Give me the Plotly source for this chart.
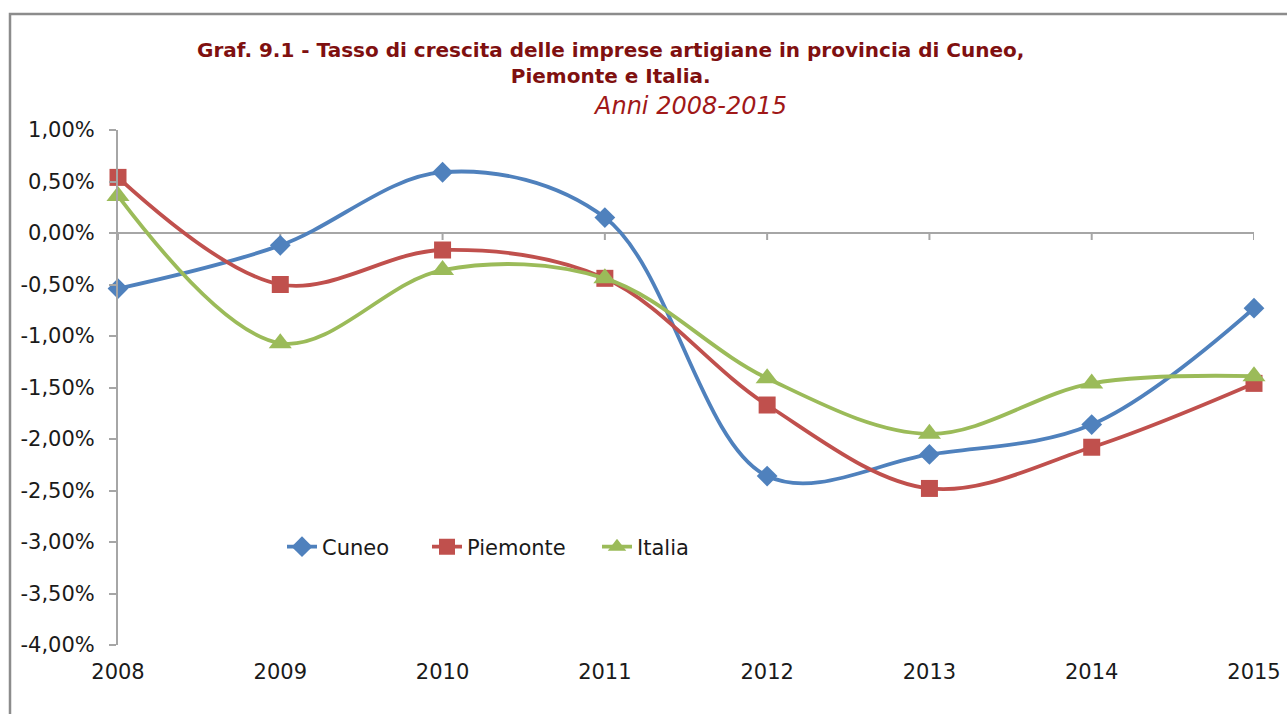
import plotly.graph_objects as go

years = [2008, 2009, 2010, 2011, 2012, 2013, 2014, 2015]
cuneo = [-0.54, -0.12, 0.59, 0.15, -2.36, -2.15, -1.86, -0.73]
piemonte = [0.54, -0.50, -0.165, -0.44, -1.67, -2.48, -2.08, -1.46]
italia = [0.36, -1.07, -0.36, -0.44, -1.41, -1.95, -1.46, -1.39]

ytick_vals = [1.0, 0.5, 0.0, -0.5, -1.0, -1.5, -2.0, -2.5, -3.0, -3.5, -4.0]
ytick_text = ["1,00%", "0,50%", "0,00%", "-0,50%", "-1,00%", "-1,50%", "-2,00%",
              "-2,50%", "-3,00%", "-3,50%", "-4,00%"]
xtick_text = [str(y) for y in years]

W, H = 1287, 714
L, R, T, B = 118, 33, 130, 69
pw, ph = W - L - R, H - T - B

def px_x(x):
    return (x - L) / pw

def px_y(y):
    return (H - B - y) / ph

series = [
    ("Cuneo", cuneo, "#4F81BD", "diamond", 16, "legend", 282),
    ("Piemonte", piemonte, "#C0504D", "square", 17, "legend2", 427),
    ("Italia", italia, "#9BBB59", "triangle-up", 20, "legend3", 597),
]

fig = go.Figure()
for name, vals, col, sym, sz, lg, _ in series:
    fig.add_trace(go.Scatter(
        x=years, y=vals, name=name, mode="lines+markers",
        line=dict(color=col, width=3.8, shape="spline", smoothing=1.0),
        marker=dict(symbol=sym, size=sz, color=col),
        cliponaxis=False, legend=lg,
    ))

# tick marks on the category axis (drawn on the zero line)
for yv in years:
    fig.add_shape(type="line", xref="x", yref="y", x0=yv, x1=yv,
                  ysizemode="pixel", yanchor=0, y0=0, y1=-7,
                  line=dict(color="#A6A6A6", width=2), layer="below")

# outer frame
fig.add_shape(type="path", xref="paper", yref="paper",
              path=f"M {px_x(10)} {px_y(H+5)} L {px_x(10)} {px_y(14)} L {px_x(W+5)} {px_y(14)}",
              line=dict(color="#8C8C8C", width=2.5))

fig.add_annotation(
    x=px_x(610), y=px_y(63), xref="paper", yref="paper", showarrow=False,
    text="<b>Graf. 9.1 - Tasso di crescita delle imprese artigiane in provincia di Cuneo,<br>Piemonte e Italia.</b>",
    font=dict(family="DejaVu Sans", size=20, color="#7F1010"),
    xanchor="center", yanchor="middle", align="center",
)
fig.add_annotation(
    x=px_x(690), y=px_y(106), xref="paper", yref="paper", showarrow=False,
    text="<i>Anni 2008-2015</i>",
    font=dict(family="DejaVu Sans", size=24, color="#A01818"),
    xanchor="center", yanchor="middle",
)

legend_common = dict(orientation="h", yanchor="middle", xanchor="left",
                     font=dict(size=21, color="#1a1a1a"), bgcolor="rgba(0,0,0,0)",
                     itemwidth=30, y=px_y(547))
legends = {}
for _, _, _, _, _, lg, lx in series:
    legends[lg] = dict(legend_common, x=px_x(lx))

fig.update_layout(
    width=W, height=H,
    margin=dict(l=L, r=R, t=T, b=B, autoexpand=False),
    paper_bgcolor="white", plot_bgcolor="white",
    font=dict(family="DejaVu Sans, Verdana", size=21, color="#1a1a1a"),
    showlegend=True,
    xaxis=dict(range=[2008, 2015], tickvals=years, ticktext=xtick_text,
               showgrid=False, showline=False, zeroline=False, ticks="",
               automargin=False, ticklabelstandoff=12, fixedrange=True),
    yaxis=dict(range=[-4.0, 1.0], tickvals=ytick_vals, ticktext=ytick_text,
               showgrid=False, zeroline=True, zerolinecolor="#A6A6A6", zerolinewidth=2,
               showline=True, linecolor="#A6A6A6", linewidth=2,
               ticks="outside", ticklen=7, tickcolor="#A6A6A6", tickwidth=2,
               automargin=False, ticklabelstandoff=10),
    **legends,
)

fig.write_html("out.html", config={"displayModeBar": False},
               post_script="document.body.style.margin='0';document.body.style.overflow='hidden';")
